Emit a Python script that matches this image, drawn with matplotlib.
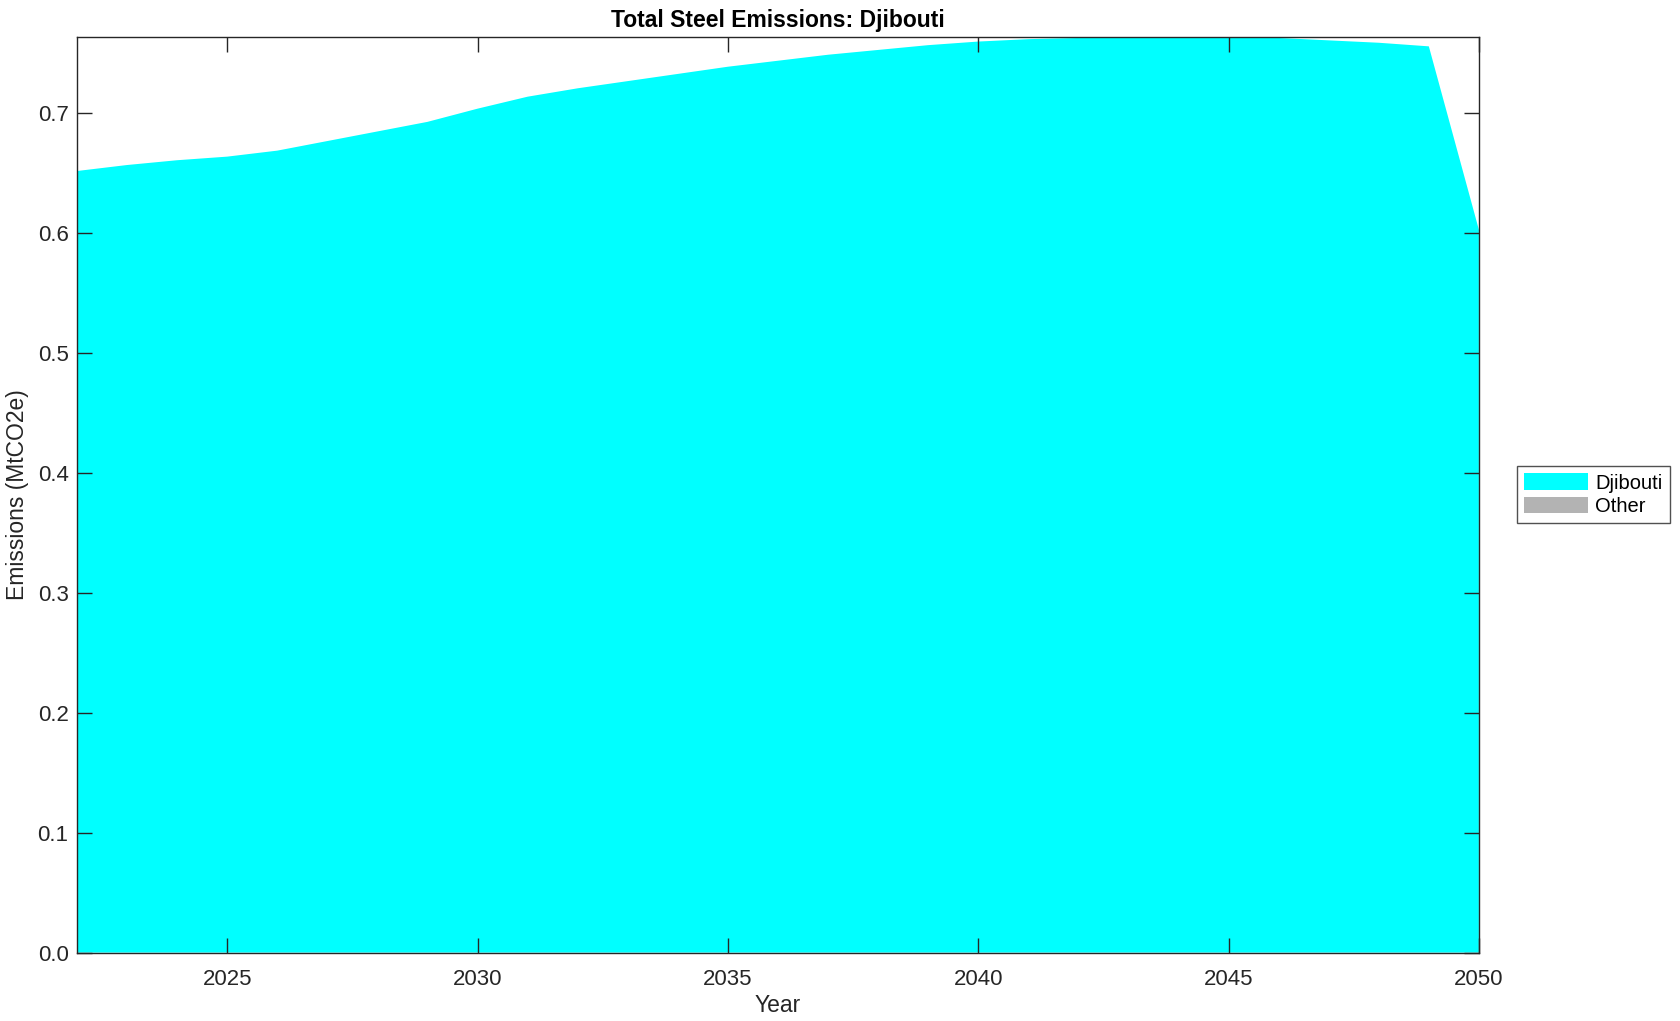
import numpy as np
import matplotlib.pyplot as plt

plt.rcParams['font.family'] = ['Liberation Sans', 'DejaVu Sans']

years = np.arange(2022, 2051)
djibouti = [0.652, 0.657, 0.661, 0.664, 0.669, 0.677, 0.685, 0.693, 0.704, 0.714,
            0.721, 0.727, 0.733, 0.739, 0.744, 0.749, 0.753, 0.757, 0.760, 0.762,
            0.763, 0.764, 0.764, 0.764, 0.763, 0.761, 0.759, 0.756, 0.603]
other = [0.0] * len(djibouti)
labels = ['Djibouti', 'Other']
colors = ['#00FFFF', '#B3B3B3']

fig = plt.figure(figsize=(16.8, 10.21), dpi=100)
ax = fig.add_axes([0.0458, 0.067, 0.8345, 0.897])

ax.stackplot(years, djibouti, other, labels=labels, colors=colors, linewidth=0)

total = np.array(djibouti) + np.array(other)
ax.set_xlim(years[0], years[-1])
ax.set_ylim(0, total.max())
ax.set_xticks(np.arange(2025, 2051, 5))
ax.set_yticks(np.arange(0, 0.71, 0.1))
ax.set_yticklabels([f'{v:.1f}' for v in np.arange(0, 0.71, 0.1)])

dark = '#262626'
ax.tick_params(direction='in', length=11, width=1, top=True, right=True,
               colors=dark, labelsize=16)
ax.tick_params(axis='x', pad=12)
ax.tick_params(axis='y', pad=6)
for s in ax.spines.values():
    s.set_color(dark)
    s.set_linewidth(1)
ax.set_axisbelow(False)

ax.set_title('Total Steel Emissions: Djibouti', fontsize=16.5, fontweight='bold', pad=7)
ax.set_xlabel('Year', fontsize=16.5, color=dark, labelpad=3)
ax.set_ylabel('Emissions (MtCO2e)', fontsize=16.5, color=dark, labelpad=6)

leg = ax.legend(loc='center left', bbox_to_anchor=(1.027, 0.5), fontsize=14.5,
                frameon=True, fancybox=False, handlelength=3.2, handleheight=0.9,
                borderpad=0.35, labelspacing=0.2, handletextpad=0.35, borderaxespad=0)
leg.get_frame().set_edgecolor(dark)
leg.get_frame().set_linewidth(1)

fig.savefig('out.png', dpi=100, facecolor='white')
